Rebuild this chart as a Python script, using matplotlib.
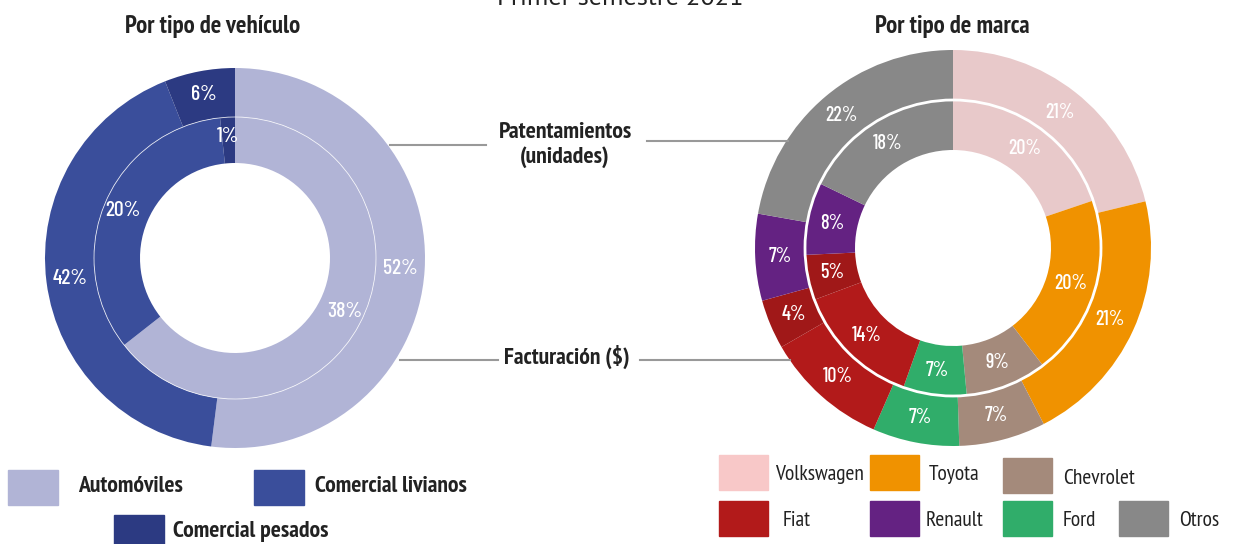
import numpy as np
import matplotlib
matplotlib.use("Agg")
import matplotlib.pyplot as plt
from matplotlib.patches import Rectangle, Circle

plt.rcParams['font.family'] = ['PT Sans Narrow', 'DejaVu Sans']
PCT_FONT = ['Barlow Condensed', 'DejaVu Sans']

# datos - por tipo de vehiculo
veh_cats = ['Automóviles', 'Comercial livianos', 'Comercial pesados']
veh_colors = ['#B1B4D6', '#3A4E9B', '#2C3A82']
veh_outer = [52, 42, 6]
veh_inner = [38, 20, 1]

# datos - por tipo de marca (el segundo tramo de Fiat va en rojo oscuro)
marca_cats = ['Volkswagen', 'Toyota', 'Chevrolet', 'Ford', 'Fiat', 'Fiat (2)', 'Renault', 'Otros']
marca_colors = ['#E8C9CA', '#F09200', '#A48A7B', '#30AD6A', '#B21A1A', '#A01818', '#642282', '#888888']
marca_outer = [21, 21, 7, 7, 10, 4, 7, 22]
marca_inner = [20, 20, 9, 7, 14, 5, 8, 18]

W, H = 1242, 544
fig = plt.figure(figsize=(W / 100, H / 100), dpi=100)
ax = fig.add_axes([0, 0, 1, 1])


def donut(vals, colors, center, r_out, width, lab_r, fs):
    wedges, _ = ax.pie(vals, colors=colors, startangle=90, counterclock=False,
                       center=center, radius=r_out,
                       wedgeprops=dict(width=width, edgecolor='none'))
    for w, v in zip(wedges, vals):
        ang = np.deg2rad((w.theta1 + w.theta2) / 2)
        x = center[0] + lab_r * np.cos(ang)
        y = center[1] + lab_r * np.sin(ang)
        ax.text(x, y, f'{v}%', color='white', fontsize=fs, ha='center', va='center',
                family=PCT_FONT, fontweight=500)
    return wedges


# izquierda (y en pixeles desde abajo)
cl = (235, H - 258)
donut(veh_outer, veh_colors, cl, 190, 49, 166, 15.5)
donut(veh_inner, veh_colors, cl, 141, 46, 122, 15.5)
ax.add_patch(Circle(cl, 141, fill=False, ec='white', lw=0.6, alpha=0.8))

# derecha
cr = (953, H - 248)
donut(marca_outer, marca_colors, cr, 198, 50, 173, 14.5)
donut(marca_inner, marca_colors, cr, 148, 50, 123, 14.5)
ax.add_patch(Circle(cr, 148, fill=False, ec='white', lw=2))

ax.set_xlim(0, W)
ax.set_ylim(0, H)
ax.set_aspect('equal')
ax.axis('off')

# titulos
ax.text(620, H - 5, 'Primer semestre 2021', fontsize=19, ha='center', va='baseline',
        family=['PT Sans', 'DejaVu Sans'], color='#222222')
ax.text(213, H - 27, 'Por tipo de vehículo', fontsize=17.8, fontweight='bold', ha='center', va='center', color='#222222')
ax.text(952, H - 27, 'Por tipo de marca', fontsize=17.8, fontweight='bold', ha='center', va='center', color='#222222')

# etiquetas centrales
ax.text(565, H - 145, 'Patentamientos\n(unidades)', fontsize=17.2, fontweight='bold', ha='center', va='center',
        color='#222222', linespacing=1.25)
ax.text(567, H - 357, 'Facturación ($)', fontsize=17, fontweight='bold', ha='center', va='center', color='#222222')
lc = '#999999'
ax.plot([390, 486], [H - 145, H - 145], color=lc, lw=1.5)
ax.plot([647, 788], [H - 141, H - 141], color=lc, lw=1.5)
ax.plot([400, 498], [H - 360, H - 360], color=lc, lw=1.5)
ax.plot([640, 790], [H - 360, H - 360], color=lc, lw=1.5)

# leyenda izquierda
leg_l = [(8, 470, 78), (254, 470, 315), (114, 515, 173)]
for (x, y, tx), c, name in zip(leg_l, veh_colors, veh_cats):
    ax.add_patch(Rectangle((x, H - y - 35), 50, 35, color=c))
    ax.text(tx, H - y - 17, name, fontsize=17, fontweight='bold', va='center', color='#222222')

# leyenda derecha
leg_r = {'Volkswagen': (719, 455, 775), 'Toyota': (870, 455, 929), 'Chevrolet': (1003, 458, 1063),
         'Fiat': (719, 501, 783), 'Renault': (870, 501, 926), 'Ford': (1003, 501, 1063), 'Otros': (1119, 501, 1179)}
legend_colors = {'Volkswagen': '#F8C8C8'}
for name, c in zip(marca_cats, marca_colors):
    if name not in leg_r:
        continue
    x, y, tx = leg_r[name]
    ax.add_patch(Rectangle((x, H - y - 35), 49, 35, color=legend_colors.get(name, c)))
    ax.text(tx, H - y - 20, name, fontsize=15.5, va='center', color='#222222')

fig.savefig('out.png', dpi=100)
